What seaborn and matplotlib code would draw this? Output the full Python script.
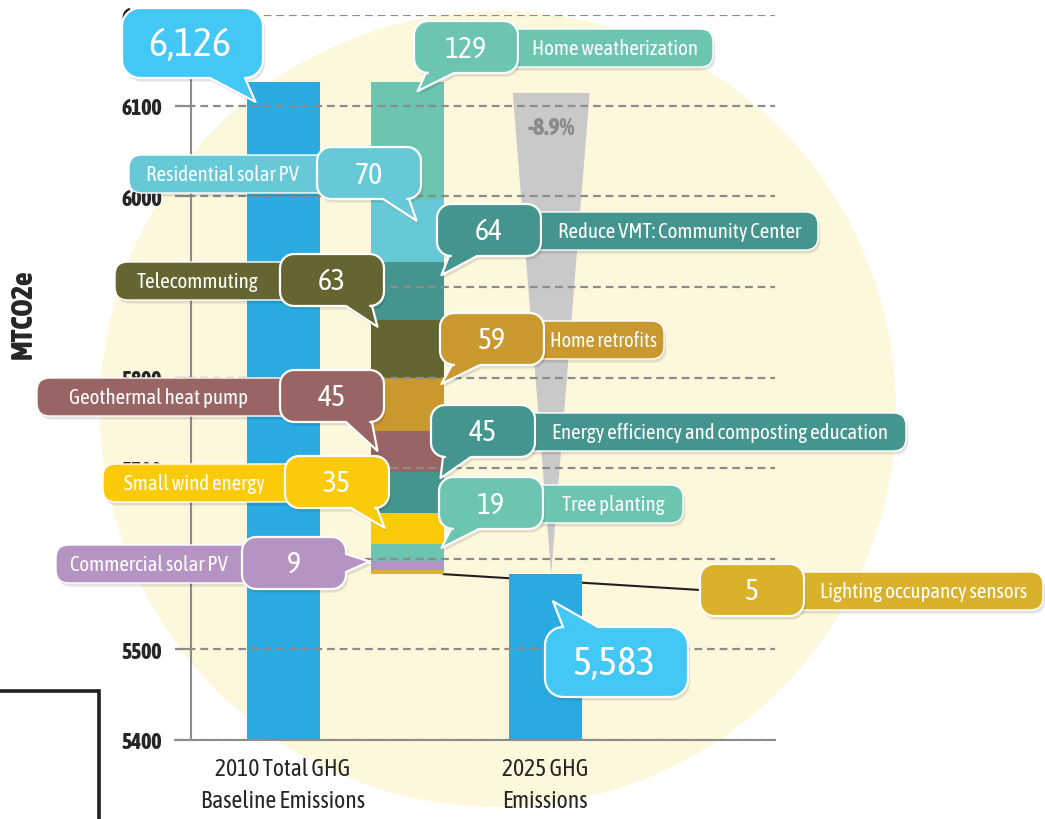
import numpy as np
import pandas as pd
import matplotlib
matplotlib.use("Agg")
import matplotlib.pyplot as plt
from matplotlib import font_manager
from matplotlib.patches import Polygon, Circle, FancyBboxPatch
from matplotlib import patheffects as pe
import seaborn as sns

# ---- data ----
measures = ["Home weatherization", "Residential solar PV", "Reduce VMT: Community Center",
            "Telecommuting", "Home retrofits", "Geothermal heat pump",
            "Energy efficiency and composting education", "Small wind energy",
            "Tree planting", "Commercial solar PV", "Lighting occupancy sensors"]
reductions = [129, 70, 64, 63, 59, 45, 45, 35, 19, 9, 5]
measure_colors = ["#6CC5B0", "#67C8D8", "#45958F", "#656531", "#C9982F", "#996464",
                  "#45958F", "#FBCB0A", "#6CC5B0", "#B594C4", "#D9B12A"]
baseline_2010 = 6126
total_labels = ["2010 Total GHG\nBaseline Emissions", "2025 GHG\nEmissions"]
y_ticks = [5400, 5500, 5600, 5700, 5800, 5900, 6000, 6100, 6200]

emissions_2025 = baseline_2010 - sum(reductions)
pct_change = (emissions_2025 - baseline_2010) / baseline_2010 * 100

# ---- fonts / theme: the original uses a condensed face, look for one ----
sns.set_theme(style="white")
fonts = font_manager.fontManager.ttflist


def wnum(w):
    return w if isinstance(w, int) else font_manager.weight_dict.get(w, 400)


info = {}
for f in fonts:
    info.setdefault(f.name, set()).add(wnum(f.weight))
narrow = [n for n in info if ("Narrow" in n or "Condensed" in n)
          and not any(k in n for k in ("Mono", "CJK", "Serif"))]
family, stretch = "DejaVu Sans", "normal"
bold_family, bold_weight = "DejaVu Sans", "bold"
regs = sorted([n for n in narrow if any(w <= 450 for w in info[n])],
              key=lambda n: (700 not in info[n], 400 not in info[n], len(n), n))
if regs:
    family = regs[0]
    if any(w >= 600 for w in info[family]):
        bold_family, bold_weight = family, max(w for w in info[family] if w <= 800)
    else:
        bolds = [(abs(w - 700), len(n), n, w) for n in narrow for w in info[n] if 600 <= w <= 800]
        if bolds:
            _, _, bold_family, bold_weight = min(bolds)
else:
    for pref in ["DejaVu Sans", "Noto Sans", "Open Sans", "Roboto", "Liberation Sans"]:
        if any(f.name == pref and f.stretch in ("condensed", "semi-condensed") for f in fonts):
            family, stretch = pref, "condensed"
            bold_family = pref
            break
plt.rcParams["font.family"] = [family, "DejaVu Sans"]
plt.rcParams["font.stretch"] = stretch
BOLD = dict(fontfamily=[bold_family, "DejaVu Sans"], fontweight=bold_weight)

W, H = 1045, 820
fig = plt.figure(figsize=(W / 100, H / 100), dpi=100)
fig.patch.set_facecolor("white")
renderer = fig.canvas.get_renderer()


def fit(t, max_w, vertical=False):
    # shrink a text until it fits the room it has
    def size():
        bb = t.get_window_extent(renderer)
        return bb.height if vertical else bb.width
    while size() > max_w and t.get_fontsize() > 6:
        t.set_fontsize(t.get_fontsize() - 0.5)


# background circle + box in the corner
bg = fig.add_axes([0, 0, 1, 1], zorder=0)
bg.set_xlim(0, W); bg.set_ylim(H, 0); bg.axis("off")
bg.add_patch(Circle((498, 410), 398, color="#FDF8DC", lw=0))
bg.plot([0, 99, 99], [692, 692, 822], color="#231F20", lw=2.6, solid_joinstyle="miter")

# ---- main axes ----
PX = 124.0                      # pixels per x unit
X_2010, X_STACK, X_2025 = 0.0, 1.0, (545 - 283) / PX
BAR_W = 73 / PX
ax = fig.add_axes([175 / W, 1 - 741 / H, 600 / W, 725 / H], zorder=1)
ax.patch.set_alpha(0)

tot = pd.DataFrame({"pos": [X_2010, X_2025], "value": [baseline_2010, emissions_2025]})
sns.barplot(data=tot, x="pos", y="value", native_scale=True, orient="x",
            width=BAR_W / (X_2025 - X_2010), color="#29ABE2", saturation=1,
            errorbar=None, linewidth=0, ax=ax)

tops = baseline_2010 - np.concatenate([[0], np.cumsum(reductions)[:-1]])
ax.bar(X_STACK, reductions, bottom=tops - np.array(reductions), width=BAR_W,
       color=measure_colors, linewidth=0)

# funnel showing the overall drop
fx = X_2025 + 0.05
f_top = baseline_2010 - 12
ax.fill([fx - 0.31, fx + 0.31, fx], [f_top, f_top, emissions_2025], color="#C9C9C9",
        lw=0, zorder=0.8)
t = ax.text(fx, f_top - 38, f"{pct_change:.1f}%", ha="center", va="center",
            color="#8A8A8A", fontsize=17, zorder=0.9, **BOLD)
fit(t, 56)

ax.set_xlim((175 - 283) / PX, (775 - 283) / PX)
ax.set_ylim(5400, 6200)
for s in ["top", "right"]:
    ax.spines[s].set_visible(False)
ax.spines["left"].set_position(("data", (191 - 283) / PX))
for s in ["left", "bottom"]:
    ax.spines[s].set_color("#8C8C8C")
    ax.spines[s].set_linewidth(1.5)
ax.set_axisbelow(False)
ax.grid(axis="y", color="#8C8C8C", lw=1.6, linestyle=(0, (3.5, 2.2)))
ax.grid(axis="x", visible=False)
ax.set_yticks(y_ticks)
ax.set_yticklabels([str(v) for v in y_ticks], fontsize=17, **BOLD)
ax.tick_params(axis="y", left=True, length=11.5, width=1.5, color="#8C8C8C", pad=9.4)
ax.set_xticks([X_2010, X_2025])
ax.set_xticklabels(total_labels, fontsize=17)
ax.tick_params(axis="x", length=0, pad=12)
ax.set_xlabel("")
ax.set_ylabel("")
for t in ax.get_yticklabels():
    fit(t, 41)
for t in ax.get_xticklabels():
    t.set_linespacing(1.5)
    fit(t, 175)
yl = fig.text(23 / W, 1 - 314 / H, "MTCO2e", rotation=90, fontsize=21,
              ha="center", va="center", **BOLD)
fit(yl, 98, vertical=True)

# ---- callouts (overlay in pixel coords) ----
ov = fig.add_axes([0, 0, 1, 1], zorder=3)
ov.set_xlim(0, W); ov.set_ylim(H, 0); ov.axis("off")


def to_px(x, y):
    dx, dy = ax.transData.transform((x, y))
    return dx, H - dy


def bubble_pts(L, T, w, h, r, tail=None, n=8):
    R, B = L + w, T + h

    def arc(cx, cy, a0, a1):
        a = np.radians(np.linspace(a0, a1, n))
        return list(zip(cx + r * np.cos(a), cy + r * np.sin(a)))
    pts = arc(L + r, T + r, 180, 270)
    if tail and tail[0] == "top":
        pts += [(tail[1], T), tail[3], (tail[2], T)]
    pts += arc(R - r, T + r, 270, 360)
    if tail and tail[0] == "right":
        pts += [(R, tail[1]), tail[3], (R, tail[2])]
    pts += arc(R - r, B - r, 0, 90)
    if tail and tail[0] == "bottom":
        pts += [(tail[2], B), tail[3], (tail[1], B)]
    pts += arc(L + r, B - r, 90, 180)
    return pts


shadow = [pe.SimplePatchShadow(offset=(1.5, -2.5), shadow_rgbFace="k", alpha=0.12), pe.Normal()]


def draw_bubble(L, T, w, h, r, color, tail, z):
    p = Polygon(bubble_pts(L, T, w, h, r, tail), closed=True, fc=color, ec="white",
                lw=1.6, joinstyle="round", zorder=z)
    p.set_path_effects(shadow)
    ov.add_patch(p)


def draw_pill(x0, x1, yc, color, z):
    p = FancyBboxPatch((x0, yc - 19), x1 - x0, 38, boxstyle="round,pad=0,rounding_size=13",
                       fc=color, ec="white", lw=1.0, zorder=z)
    p.set_path_effects(shadow)
    ov.add_patch(p)


# layout: bubble left/top (px), pill end (px), tip offset (px along x, value units down)
layout = {
    "Home weatherization": dict(side="R", L=414, T=22, pill=713, dx=-26, drop=10),
    "Residential solar PV": dict(side="L", L=317, T=148, pill=129, dx=46, drop=24),
    "Reduce VMT: Community Center": dict(side="R", L=437, T=205, pill=818, dx=-2, drop=14),
    "Telecommuting": dict(side="L", L=280, T=255, pill=115, dx=7, drop=7),
    "Home retrofits": dict(side="R", L=440, T=314, pill=664, dx=-2, drop=7),
    "Geothermal heat pump": dict(side="L", L=280, T=371, pill=37, dx=7, drop=22),
    "Energy efficiency and composting education": dict(side="R", L=431, T=406, pill=906, dx=-3, drop=7),
    "Small wind energy": dict(side="L", L=285, T=457, pill=103, dx=14, drop=17),
    "Tree planting": dict(side="R", L=439, T=478, pill=683, dx=-2, drop=4),
    "Commercial solar PV": dict(side="L", L=242, T=538, pill=56, dx=-1, drop=0),
    "Lighting occupancy sensors": dict(side="R", L=700, T=565, pill=1043, dx=0, drop=0),
}
BW, BH, BR = 104, 52, 14
stack_l, stack_r = X_STACK - BAR_W / 2, X_STACK + BAR_W / 2

z = 4
for name, val, col, top in zip(measures, reductions, measure_colors, tops):
    lay = layout[name]
    L, T = lay["L"], lay["T"]
    yc = T + BH / 2
    if name == "Lighting occupancy sensors":
        tail = None
        ex, ey = ax.transData.inverted().transform((L, H - yc))
        ax.plot([stack_r, ex], [emissions_2025, ey], color="#231F20", lw=1.5, zorder=0.9,
                clip_on=False)
    elif name == "Commercial solar PV":
        tx, ty = to_px(stack_l, top)
        tail = ("right", T + 17, T + 35, (tx + lay["dx"], ty))
    elif lay["side"] == "R":
        tx, ty = to_px(stack_r, top - lay["drop"])
        tail = ("bottom", L + 12, L + 40, (tx + lay["dx"], ty))
    else:
        tx, ty = to_px(stack_l, top - lay["drop"])
        tail = ("bottom", L + BW - 38, L + BW - 12, (tx + lay["dx"], ty))

    if lay["side"] == "R":
        draw_pill(L + BW / 2, lay["pill"], yc + 1, col, z)
        lx, room = (L + BW + lay["pill"]) / 2, lay["pill"] - L - BW - 10
    else:
        draw_pill(lay["pill"], L + BW / 2, yc + 1, col, z)
        lx, room = (lay["pill"] + L) / 2, L - lay["pill"] - 10
    t = ov.text(lx, yc + 1, name, color="white", fontsize=15, ha="center", va="center",
                zorder=z + 0.5)
    fit(t, room)
    draw_bubble(L, T, BW, BH, BR, col, tail, z + 1)
    ov.text(L + BW / 2, yc + 1, f"{val}", color="white", fontsize=21.5, ha="center",
            va="center", zorder=z + 1.5)
    z += 2

# big total bubbles
tx, ty = to_px(X_2010 - BAR_W / 2, baseline_2010 - 22)
draw_bubble(122, 9, 141, 70, 18, "#43C8F5", ("bottom", 210, 245, (tx + 9, ty)), z)
t = ov.text(190, 45, f"{baseline_2010:,}", color="white", fontsize=29, ha="center",
            va="center", zorder=z + 0.5)
fit(t, 104)
tx, ty = to_px(X_2025, emissions_2025 - 30)
draw_bubble(545, 628, 143, 70, 18, "#43C8F5", ("top", 563, 598, (tx + 8, ty)), z)
t = ov.text(614, 664, f"{emissions_2025:,}", color="white", fontsize=29, ha="center",
            va="center", zorder=z + 0.5)
fit(t, 104)

fig.savefig("out.png", dpi=100)
